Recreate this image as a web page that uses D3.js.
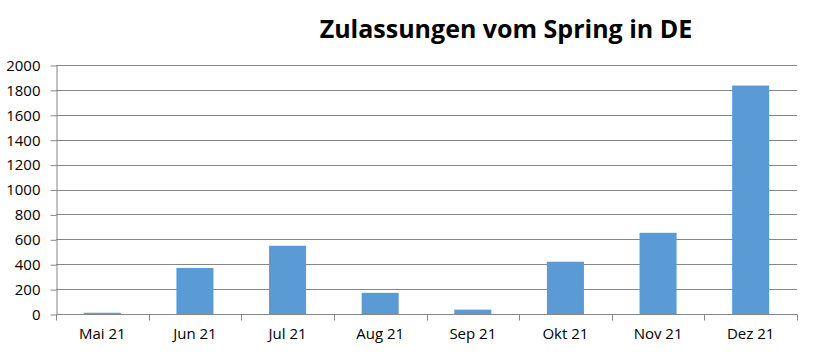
<!DOCTYPE html>
<html>
<head>
<meta charset="utf-8">
<script src="https://cdn.jsdelivr.net/npm/d3@7"></script>
<style>
  body { margin: 0; background: #fff; }
  text { font-family: "Open Sans", "Liberation Sans", sans-serif; }
</style>
</head>
<body>
<div id="chart"></div>
<script>
var months = ['Mai 21', 'Jun 21', 'Jul 21', 'Aug 21', 'Sep 21', 'Okt 21', 'Nov 21', 'Dez 21'];
var zulassungen = [10, 370, 548, 170, 35, 420, 652, 1835];
var yTicks = [0, 200, 400, 600, 800, 1000, 1200, 1400, 1600, 1800, 2000];

var width = 815,
    height = 353;

var margin = {left: 56, right: 18, top: 65, bottom: 39};

var svg = d3.select('#chart')
    .append('svg')
    .attr('width', width)
    .attr('height', height);

var x = d3.scaleBand()
    .domain(months)
    .range([margin.left, width - margin.right])
    .paddingInner(0.6)
    .paddingOuter(0.3);

var y = d3.scaleLinear()
    .domain([0, 2000])
    .range([height - margin.bottom, margin.top]);

// gridlines
svg.append('g')
    .selectAll('line')
    .data(yTicks)
    .enter()
    .append('line')
    .attr('x1', margin.left)
    .attr('x2', width - margin.right)
    .attr('y1', function (d) { return Math.round(y(d)) + 0.5; })
    .attr('y2', function (d) { return Math.round(y(d)) + 0.5; })
    .attr('stroke', '#868686')
    .attr('stroke-width', 1);

// y axis
var yAxis = svg.append('g')
    .attr('transform', 'translate(' + (margin.left + 0.5) + ',0.5)')
    .call(d3.axisLeft(y).tickValues(yTicks).tickFormat(d3.format('d'))
        .tickSize(6).tickPadding(10).tickSizeOuter(0));
yAxis.select('.domain').attr('stroke', '#868686');
yAxis.selectAll('.tick line').attr('stroke', '#868686');
yAxis.selectAll('.tick text')
    .attr('fill', '#000')
    .style('font-size', '15px');

// bars
svg.append('g')
    .selectAll('rect')
    .data(zulassungen)
    .enter()
    .append('rect')
    .attr('x', function (d, i) { return x(months[i]); })
    .attr('width', x.bandwidth())
    .attr('y', function (d) { return y(d); })
    .attr('height', function (d) { return y(0) - y(d); })
    .attr('fill', '#5b9bd5');

// x axis, ticks sit between categories
var xAxis = svg.append('g')
    .attr('transform', 'translate(0,' + (Math.round(y(0)) + 0.5) + ')');
xAxis.append('line')
    .attr('x1', margin.left)
    .attr('x2', width - margin.right)
    .attr('stroke', '#868686');
var step = (width - margin.right - margin.left) / months.length;
xAxis.selectAll('.sep')
    .data(d3.range(months.length + 1))
    .enter()
    .append('line')
    .attr('class', 'sep')
    .attr('x1', function (d) { return Math.round(margin.left + d * step) + 0.5; })
    .attr('x2', function (d) { return Math.round(margin.left + d * step) + 0.5; })
    .attr('y1', 0)
    .attr('y2', 6)
    .attr('stroke', '#868686');
xAxis.selectAll('.lbl')
    .data(months)
    .enter()
    .append('text')
    .attr('class', 'lbl')
    .attr('x', function (d) { return x(d) + x.bandwidth() / 2; })
    .attr('y', 24)
    .attr('text-anchor', 'middle')
    .attr('fill', '#000')
    .style('font-size', '15px')
    .text(function (d) { return d; });

// title
svg.append('text')
    .attr('x', 506)
    .attr('y', 38)
    .attr('text-anchor', 'middle')
    .attr('fill', '#000')
    .style('font-size', '25px')
    .style('font-weight', 'bold')
    .text('Zulassungen vom Spring in DE');
</script>
</body>
</html>
